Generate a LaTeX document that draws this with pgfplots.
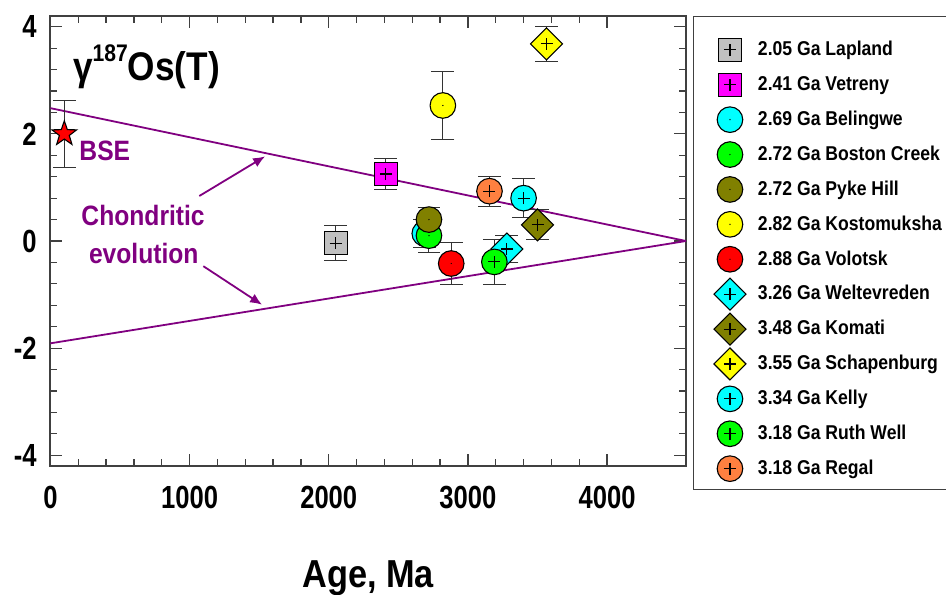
\documentclass[border=0pt]{standalone}
\usepackage{fontspec}
\setmainfont{Liberation Sans}[FakeStretch=0.88]
\newfontfamily\tickfont{Liberation Sans}[FakeStretch=0.8]
\usepackage{pgfplots}
\pgfplotsset{compat=1.18}
\usetikzlibrary{arrows.meta}

\definecolor{cgray}{HTML}{C0C0C0}
\definecolor{cmag}{HTML}{FF00FF}
\definecolor{ccyan}{HTML}{00FFFF}
\definecolor{cgreen}{HTML}{00FF00}
\definecolor{colive}{HTML}{808000}
\definecolor{cyellow}{HTML}{FFFF00}
\definecolor{cred}{HTML}{FF0000}
\definecolor{corange}{HTML}{FF8040}
\definecolor{cpurple}{HTML}{800080}

\pgfdeclareplotmark{cplus}{%
  \pgfpathcircle{\pgfpointorigin}{\pgfplotmarksize}\pgfusepathqfillstroke
  \pgfpathmoveto{\pgfqpoint{-3pt}{0pt}}\pgfpathlineto{\pgfqpoint{3pt}{0pt}}%
  \pgfpathmoveto{\pgfqpoint{0pt}{-3pt}}\pgfpathlineto{\pgfqpoint{0pt}{3pt}}%
  \pgfusepathqstroke}
\pgfdeclareplotmark{cdot}{%
  \pgfpathcircle{\pgfpointorigin}{\pgfplotmarksize}\pgfusepathqfillstroke
  \pgfsetfillcolor{black}%
  \pgfpathcircle{\pgfpointorigin}{0.35pt}\pgfusepathqfill}
\pgfdeclareplotmark{splus}{%
  \pgfpathrectangle{\pgfqpoint{-\pgfplotmarksize}{-\pgfplotmarksize}}{\pgfqpoint{2\pgfplotmarksize}{2\pgfplotmarksize}}\pgfusepathqfillstroke
  \pgfpathmoveto{\pgfqpoint{-3pt}{0pt}}\pgfpathlineto{\pgfqpoint{3pt}{0pt}}%
  \pgfpathmoveto{\pgfqpoint{0pt}{-3pt}}\pgfpathlineto{\pgfqpoint{0pt}{3pt}}%
  \pgfusepathqstroke}
\pgfdeclareplotmark{dplus}{%
  \pgfpathmoveto{\pgfqpoint{0pt}{\pgfplotmarksize}}%
  \pgfpathlineto{\pgfqpoint{\pgfplotmarksize}{0pt}}%
  \pgfpathlineto{\pgfqpoint{0pt}{-\pgfplotmarksize}}%
  \pgfpathlineto{\pgfqpoint{-\pgfplotmarksize}{0pt}}%
  \pgfpathclose\pgfusepathqfillstroke
  \pgfpathmoveto{\pgfqpoint{-3pt}{0pt}}\pgfpathlineto{\pgfqpoint{3pt}{0pt}}%
  \pgfpathmoveto{\pgfqpoint{0pt}{-3pt}}\pgfpathlineto{\pgfqpoint{0pt}{3pt}}%
  \pgfusepathqstroke}
\pgfdeclareplotmark{fstar}{%
  \pgfpathmoveto{\pgfpointpolar{90}{\pgfplotmarksize}}%
  \pgfpathlineto{\pgfpointpolar{126}{0.4\pgfplotmarksize}}%
  \pgfpathlineto{\pgfpointpolar{162}{\pgfplotmarksize}}%
  \pgfpathlineto{\pgfpointpolar{198}{0.4\pgfplotmarksize}}%
  \pgfpathlineto{\pgfpointpolar{234}{\pgfplotmarksize}}%
  \pgfpathlineto{\pgfpointpolar{270}{0.4\pgfplotmarksize}}%
  \pgfpathlineto{\pgfpointpolar{306}{\pgfplotmarksize}}%
  \pgfpathlineto{\pgfpointpolar{342}{0.4\pgfplotmarksize}}%
  \pgfpathlineto{\pgfpointpolar{18}{\pgfplotmarksize}}%
  \pgfpathlineto{\pgfpointpolar{54}{0.4\pgfplotmarksize}}%
  \pgfpathclose\pgfusepathqfillstroke}

\pgfplotsset{
  eb/.style={only marks,
    error bars/y dir=both, error bars/y explicit,
    error bars/error bar style={black!80, line width=0.5pt},
    error bars/error mark options={rotate=90, mark size=5.7pt, black!80, line width=0.5pt}},
  mk/.style={mark options={fill=#1, draw=black, line width=0.55pt}},
}

\begin{document}
\begin{tikzpicture}
\begin{axis}[name=ax, scale only axis, width=317.8pt, height=225pt,
  xmin=0, xmax=4567, ymin=-4.2, ymax=4.2,
  xtick={0,1000,2000,3000,4000}, xticklabels={0,1000,2000,3000,4000},
  ytick={-4,-2,0,2,4}, yticklabels={-4,-2,0,2,4},
  minor x tick num=4, minor y tick num=4,
  tick align=inside, major tick length=6pt, minor tick length=3.5pt,
  tick style={black!75, line width=0.6pt},
  axis line style={black!75, line width=0.9pt},
  tick label style={font=\tickfont\bfseries\fontsize{16}{16}\selectfont},
  yticklabel style={xshift=-3.4pt},
  xticklabel style={yshift=-6.7pt},
  xlabel={Age, Ma},
  xlabel style={font=\bfseries\fontsize{19.5}{20}\selectfont, at={(axis description cs:0.5,0)}, anchor=base, yshift=-60.5pt},
  legend cell align=left,
  legend style={at={(1,1)}, anchor=north west, xshift=3.35pt, draw=black!75, line width=0.6pt,
    font=\bfseries\fontsize{10}{10}\selectfont, inner xsep=9.8pt, inner ysep=1.5pt,
    row sep=0pt, column sep=5pt, nodes={minimum height=17.45pt, inner sep=1pt}},
  clip=false,
]
% chondritic evolution lines
\addplot[cpurple, line width=0.9pt, forget plot] coordinates {(0,2.48) (4567,0)};
\addplot[cpurple, line width=0.9pt, forget plot] coordinates {(0,-1.91) (4567,0)};
% BSE
\addplot[eb, mark=fstar, mark size=6.5pt, mk=red, forget plot] coordinates {(100,2.0) +- (0,0.62)};

\addlegendimage{empty legend}
\addlegendentry[minimum height=6.4pt]{}
\addplot[eb, mark=splus, mark size=5.75pt, mk=cgray] coordinates {(2050,-0.04) +- (0,0.33)};
\addlegendentry{2.05 Ga Lapland}
\addplot[eb, mark=splus, mark size=5.75pt, mk=cmag] coordinates {(2410,1.25) +- (0,0.29)};
\addlegendentry{2.41 Ga Vetreny}
\addplot[eb, mark=cdot, mark size=6.4pt, mk=ccyan] coordinates {(2690,0.14) +- (0,0.27)};
\addlegendentry{2.69 Ga Belingwe}
\addplot[eb, mark=cdot, mark size=6.4pt, mk=cgreen] coordinates {(2720,0.10) +- (0,0.32)};
\addlegendentry{2.72 Ga Boston Creek}
\addplot[eb, mark=cdot, mark size=6.4pt, mk=colive] coordinates {(2720,0.40) +- (0,0.22)};
\addlegendentry{2.72 Ga Pyke Hill}
\addplot[eb, mark=cdot, mark size=6.4pt, mk=cyellow] coordinates {(2820,2.53) +- (0,0.63)};
\addlegendentry{2.82 Ga Kostomuksha}
\addplot[eb, mark=cdot, mark size=6.4pt, mk=cred] coordinates {(2880,-0.42) +- (0,0.40)};
\addlegendentry{2.88 Ga Volotsk}
\addplot[eb, mark=dplus, mark size=8pt, mk=ccyan] coordinates {(3280,-0.15) +- (0,0.25)};
\addlegendentry{3.26 Ga Weltevreden}
\addplot[eb, mark=dplus, mark size=8pt, mk=colive] coordinates {(3500,0.30) +- (0,0.28)};
\addlegendentry{3.48 Ga Komati}
\addplot[eb, mark=dplus, mark size=8pt, mk=cyellow] coordinates {(3565,3.68) +- (0,0.32)};
\addlegendentry{3.55 Ga Schapenburg}
\addplot[eb, mark=cplus, mark size=6.4pt, mk=ccyan] coordinates {(3400,0.80) +- (0,0.36)};
\addlegendentry{3.34 Ga Kelly}
\addplot[eb, mark=cplus, mark size=6.4pt, mk=cgreen] coordinates {(3190,-0.39) +- (0,0.42)};
\addlegendentry{3.18 Ga Ruth Well}
\addplot[eb, mark=cplus, mark size=6.4pt, mk=corange] coordinates {(3155,0.93) +- (0,0.28)};
\addlegendentry{3.18 Ga Regal}

% annotations
\node[anchor=base west, font=\bfseries\fontsize{20}{20}\selectfont, inner sep=0pt]
  at (axis cs:160,3.0) {γ\raisebox{9.5pt}{\fontsize{12}{12}\selectfont 187}Os(T)};
\node[anchor=west, text=cpurple, font=\bfseries\fontsize{14}{14}\selectfont, inner sep=0pt]
  at (axis cs:206,1.68) {BSE};
\node[text=cpurple, font=\bfseries\fontsize{14}{14}\selectfont, inner sep=0pt]
  at (axis cs:666,0.47) {Chondritic};
\node[text=cpurple, font=\bfseries\fontsize{14}{14}\selectfont, inner sep=0pt]
  at (axis cs:671,-0.24) {evolution};
\draw[cpurple, line width=0.9pt, -{Latex[length=6pt,width=5pt]}] (axis cs:1070,0.84) -- (axis cs:1543,1.58);
\draw[cpurple, line width=0.9pt, -{Latex[length=6pt,width=5pt]}] (axis cs:1099,-0.47) -- (axis cs:1521,-1.19);
\end{axis}
\pgfresetboundingbox
\path[use as bounding box] ([xshift=-25.2pt,yshift=-64pt]ax.south west) rectangle ([xshift=130pt,yshift=8pt]ax.north east);
\end{tikzpicture}
\end{document}
